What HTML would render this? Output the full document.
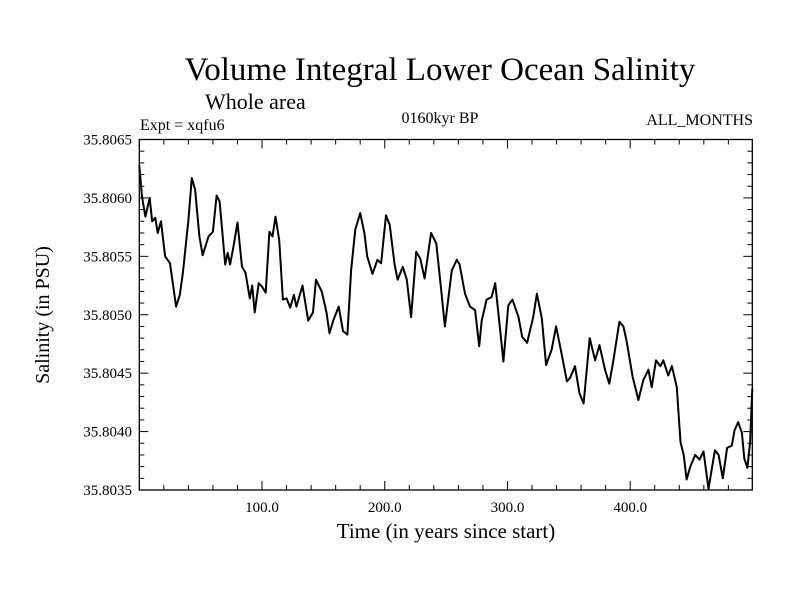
<!DOCTYPE html>
<html><head><meta charset="utf-8"><style>
body{margin:0;background:#fff;}
svg text{font-family:"Liberation Serif",serif;fill:#000;}
</style></head><body>
<svg id="chart" width="800" height="600" viewBox="0 0 800 600" xmlns="http://www.w3.org/2000/svg">
<text x="440" y="80" font-size="33" text-anchor="middle">Volume Integral Lower Ocean Salinity</text>
<text x="205" y="109" font-size="22">Whole area</text>
<text x="140" y="130" font-size="16">Expt = xqfu6</text>
<text x="440" y="123" font-size="16" text-anchor="middle">0160kyr BP</text>
<text x="753" y="125" font-size="16" text-anchor="end">ALL_MONTHS</text>
<text x="446" y="538" font-size="21" text-anchor="middle">Time (in years since start)</text>
<text transform="translate(49,315) rotate(-90)" font-size="20" text-anchor="middle">Salinity (in PSU)</text>
<g id="axes"></g>
<path id="series" fill="none" stroke="#000" stroke-width="2" stroke-linejoin="round"/>
<rect x="139.3" y="139.5" width="613" height="350.5" fill="none" stroke="#000" stroke-width="1.3"/>
</svg>
<script>
const years=[0,2.2,5,8.5,10.4,13,15,17.7,21,25,30,33,35.5,40,42.8,45.5,49,51.7,56.4,60,63,65.4,70,72,74,77,80,83.7,86.5,90,92,94,97.3,100,103,106,108.5,111,114,117,120,123,126,128,133,137.6,141.5,144,148.6,152.5,155,158,162.5,166,169.6,172.6,176,180,183.4,185.7,190,194,197,201,204,208,210.5,214.7,218,221.5,225.6,229,232.5,237.8,242,246,249,254.6,258.7,261,265.4,269.5,273.6,277,279,283,287,290,293.4,296.7,300.7,304,309,312,316,321,324,328,331.5,336,339.6,344,348.4,351,355,358.6,362,367,371.4,375,379.5,383,386.3,391.2,394.5,397,402,406.7,410.7,414.8,417.5,421,424.5,427,431,434,438,441,443.6,446,449,453,456.5,459.7,463.8,469,472,475.5,479,482.8,485,488,491,493,495.5,497.7,499.5];
const salinity=[35.80628,35.80601,35.80584,35.80600,35.80580,35.80583,35.80570,35.80580,35.80550,35.80544,35.80507,35.80517,35.80536,35.80581,35.80617,35.80607,35.80567,35.80551,35.80567,35.80571,35.80602,35.80597,35.80543,35.80553,35.80543,35.80560,35.80579,35.80541,35.80536,35.80514,35.80525,35.80502,35.80527,35.80524,35.80519,35.80571,35.80567,35.80584,35.80564,35.80513,35.80514,35.80506,35.80517,35.80507,35.80525,35.80495,35.80502,35.80530,35.80520,35.80502,35.80484,35.80495,35.80507,35.80486,35.80483,35.80538,35.80573,35.80587,35.80570,35.80550,35.80535,35.80547,35.80544,35.80585,35.80577,35.80543,35.80530,35.80541,35.80530,35.80498,35.80554,35.80548,35.80531,35.80570,35.80561,35.80521,35.80490,35.80538,35.80547,35.80543,35.80518,35.80507,35.80504,35.80473,35.80495,35.80513,35.80515,35.80527,35.80493,35.80460,35.80508,35.80513,35.80498,35.80481,35.80476,35.80498,35.80518,35.80497,35.80457,35.80470,35.80490,35.80467,35.80443,35.80446,35.80456,35.80433,35.80424,35.80480,35.80461,35.80474,35.80453,35.80441,35.80461,35.80494,35.80490,35.80478,35.80447,35.80427,35.80444,35.80453,35.80438,35.80461,35.80456,35.80461,35.80448,35.80456,35.80438,35.80391,35.80380,35.80359,35.80370,35.80380,35.80376,35.80383,35.80351,35.80384,35.80380,35.80360,35.80386,35.80388,35.80401,35.80408,35.80399,35.80377,35.80369,35.80391,35.80437];
const xTickLabels=["100.0","200.0","300.0","400.0"];
const xTickValues=[100,200,300,400];
const yTickLabels=["35.8035","35.8040","35.8045","35.8050","35.8055","35.8060","35.8065"];
const yTickValues=[35.8035,35.8040,35.8045,35.8050,35.8055,35.8060,35.8065];

const X0=139.3,X1=752.3,Y0=490,Y1=139.5,XMIN=0,XMAX=499.5,YMIN=35.8035,YMAX=35.8065;
function sx(v){return X0+(v-XMIN)/(XMAX-XMIN)*(X1-X0);}
function sy(v){return Y0-(v-YMIN)/(YMAX-YMIN)*(Y0-Y1);}
const NS="http://www.w3.org/2000/svg";
const axes=document.getElementById('axes');
function line(x1,y1,x2,y2,name){
  const l=document.createElementNS(NS,'line');
  l.setAttribute('x1',x1);l.setAttribute('y1',y1);l.setAttribute('x2',x2);l.setAttribute('y2',y2);
  l.setAttribute('stroke','#000');l.setAttribute('stroke-width','1');
  
  
  axes.appendChild(l);
}
function text(x,y,s,anchor,name){
  const t=document.createElementNS(NS,'text');
  t.setAttribute('x',x);t.setAttribute('y',y);t.setAttribute('font-size','15');t.setAttribute('text-anchor',anchor);
  t.textContent=s;
  
  
  axes.appendChild(t);
}
for(let v=20;v<XMAX;v+=20){
  const x=sx(v),len=(v%100===0)?9:5;
  line(x,Y0,x,Y0-len,'x-tick');
  line(x,Y1,x,Y1+len,'x-tick-top');
}
for(let i=0;i<=30;i++){
  const v=YMIN+i*0.0001,y=sy(v),len=(i%5===0)?9:5;
  line(X0,y,X0+len,y,'y-tick');
  line(X1,y,X1-len,y,'y-tick-right');
}
xTickLabels.forEach((s,i)=>text(sx(xTickValues[i]),512,s,'middle','x-tick-label'));
yTickLabels.forEach((s,i)=>text(132,sy(yTickValues[i])+5,s,'end','y-tick-label'));
let d='';
years.forEach((yr,i)=>{d+=(i?'L':'M')+sx(yr).toFixed(1)+','+sy(salinity[i]).toFixed(1);});
document.getElementById('series').setAttribute('d',d);
</script>
</body></html>
